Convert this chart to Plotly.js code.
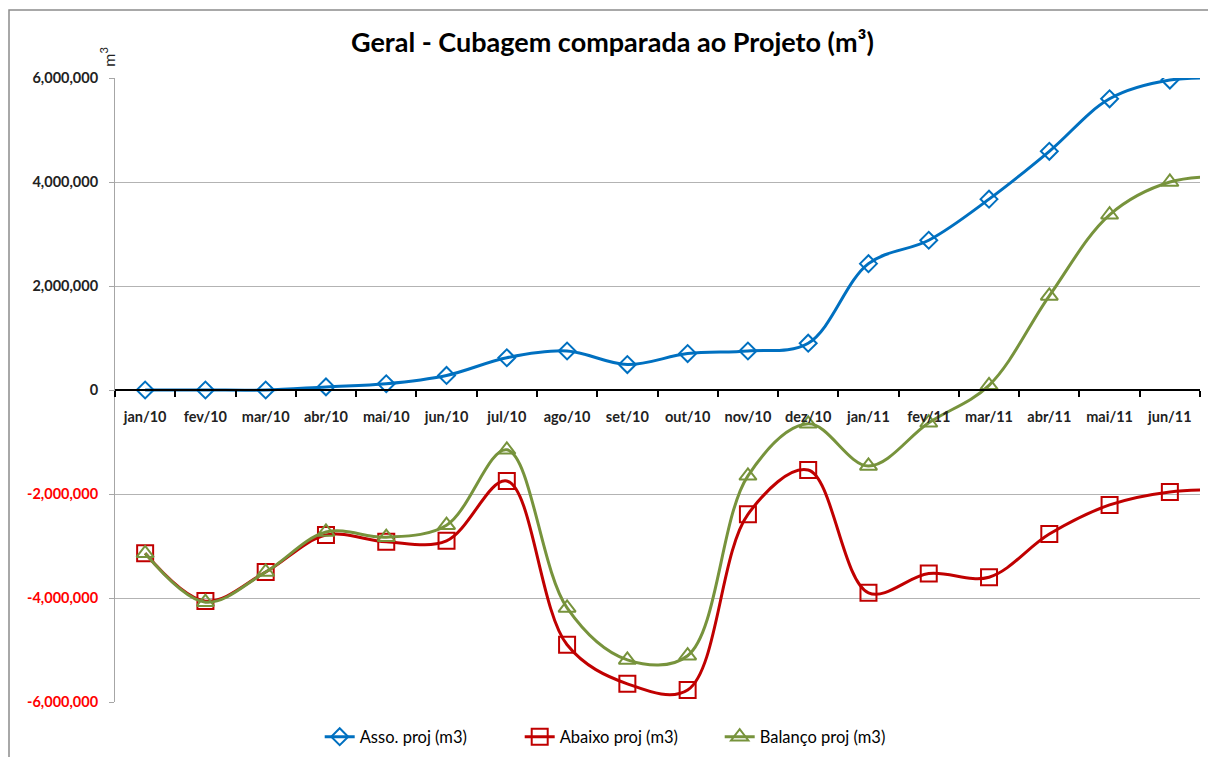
<!DOCTYPE html>
<html>
<head>
<meta charset="utf-8">
<script src="https://cdn.plot.ly/plotly-3.0.1.min.js"></script>
<style>
  html, body { margin: 0; padding: 0; background: #fff; }
  #chart { width: 1208px; height: 757px; }
</style>
</head>
<body>
<div id="chart"></div>
<script>
// Categories (the last one lies beyond the visible axis range; only the line running toward it shows)
const months = ["jan/10","fev/10","mar/10","abr/10","mai/10","jun/10","jul/10","ago/10","set/10",
                "out/10","nov/10","dez/10","jan/11","fev/11","mar/11","abr/11","mai/11","jun/11","jul/11"];

// Series values (m3)
const assoProj = [0, 0, 0, 60000, 120000, 280000, 620000, 750000, 490000,
                  700000, 750000, 900000, 2430000, 2880000, 3670000, 4590000, 5600000, 5960000, 5990000];
const abaixoProj = [-3140000, -4060000, -3500000, -2790000, -2920000, -2900000, -1750000, -4900000, -5650000,
                    -5770000, -2390000, -1540000, -3900000, -3530000, -3600000, -2770000, -2210000, -1960000, -1920000];
const balancoProj = [-3140000, -4080000, -3500000, -2730000, -2830000, -2600000, -1150000, -4190000, -5190000,
                     -5110000, -1650000, -650000, -1460000, -630000, 90000, 1810000, 3370000, 4000000, 4110000];

// Tick labels
const yTickVals = [-6000000, -4000000, -2000000, 0, 2000000, 4000000, 6000000];
const yTickText = ['<span style="color:#ff0000">-6,000,000</span>',
                   '<span style="color:#ff0000">-4,000,000</span>',
                   '<span style="color:#ff0000">-2,000,000</span>',
                   '0', '2,000,000', '4,000,000', '6,000,000'];

const seriesNames = ["Asso. proj (m3)", "Abaixo proj (m3)", "Balanço proj (m3)"];
const FONT = "Lato, 'Open Sans', sans-serif";

const traces = [
  {
    x: months, y: assoProj, name: seriesNames[0], type: "scatter", mode: "lines+markers",
    line: { color: "#0070c0", width: 3, shape: "spline", smoothing: 1 },
    marker: { symbol: "diamond-open", size: 13, color: "#0070c0", line: { width: 2, color: "#0070c0" } }
  },
  {
    x: months, y: abaixoProj, name: seriesNames[1], type: "scatter", mode: "lines+markers",
    line: { color: "#c00000", width: 3, shape: "spline", smoothing: 1 },
    marker: { symbol: "square-open", size: 16, color: "#c00000", line: { width: 2, color: "#c00000" } }
  },
  {
    x: months, y: balancoProj, name: seriesNames[2], type: "scatter", mode: "lines+markers",
    line: { color: "#77933c", width: 3, shape: "spline", smoothing: 1 },
    marker: { symbol: "triangle-up-open", size: 15, color: "#77933c", line: { width: 2, color: "#77933c" } }
  }
];

const layout = {
  width: 1208, height: 757,
  margin: { l: 115, r: 8, t: 78, b: 55 },
  paper_bgcolor: "#ffffff", plot_bgcolor: "#ffffff",
  font: { family: FONT, size: 14, color: "#222222" },
  title: {
    text: "<b>Geral - Cubagem comparada ao Projeto (m³)</b>",
    font: { family: FONT, size: 27, color: "#000000" },
    xref: "container", x: 0.507, xanchor: "center",
    yref: "container", y: 0.944, yanchor: "middle"
  },
  xaxis: {
    type: "category", categoryorder: "array", categoryarray: months,
    range: [-0.5, 17.5],
    anchor: "free", position: 0.5,
    showline: true, linecolor: "#000000", linewidth: 2,
    ticks: "outside", ticklen: 6, tickwidth: 2, tickcolor: "#000000",
    tickson: "boundaries",
    showgrid: false, zeroline: false,
    tickfont: { family: FONT, size: 14.5, color: "#222222", weight: "bold" },
    ticklabelstandoff: 14,
    fixedrange: true
  },
  yaxis: {
    range: [-6000000, 6000000],
    tickmode: "array", tickvals: yTickVals, ticktext: yTickText,
    showgrid: true, gridcolor: "#b3b3b3", gridwidth: 1,
    showline: true, linecolor: "#a6a6a6", linewidth: 1,
    ticks: "outside", ticklen: 5, tickcolor: "#a6a6a6",
    zeroline: false,
    tickfont: { family: FONT, size: 14.5, color: "#222222", weight: "bold" },
    ticklabelstandoff: 8,
    fixedrange: true
  },
  showlegend: true,
  legend: {
    orientation: "h",
    xref: "container", x: 0.513, xanchor: "center",
    yref: "container", y: 1 - 737 / 757, yanchor: "middle",
    font: { family: FONT, size: 16.5, color: "#000000" },
    itemwidth: 30,
    entrywidth: 155, entrywidthmode: "pixels",
    bgcolor: "rgba(0,0,0,0)"
  },
  annotations: [
    {
      text: "m<sup>3</sup>", textangle: -90, showarrow: false,
      xref: "paper", yref: "paper",
      x: -0.0065, y: 1.034, xanchor: "center", yanchor: "middle",
      font: { family: FONT, size: 16, color: "#222222" }
    }
  ],
  shapes: [
    {
      type: "rect", xref: "paper", yref: "paper",
      x0: (9 - 115) / 1085, x1: (1220 - 115) / 1085,
      y0: (702 - 770) / 624, y1: (702 - 10) / 624,
      line: { color: "#8c8c8c", width: 1.5 }, fillcolor: "rgba(0,0,0,0)",
      layer: "below"
    }
  ]
};

Plotly.newPlot("chart", traces, layout, { displayModeBar: false, staticPlot: true });
</script>
</body>
</html>
